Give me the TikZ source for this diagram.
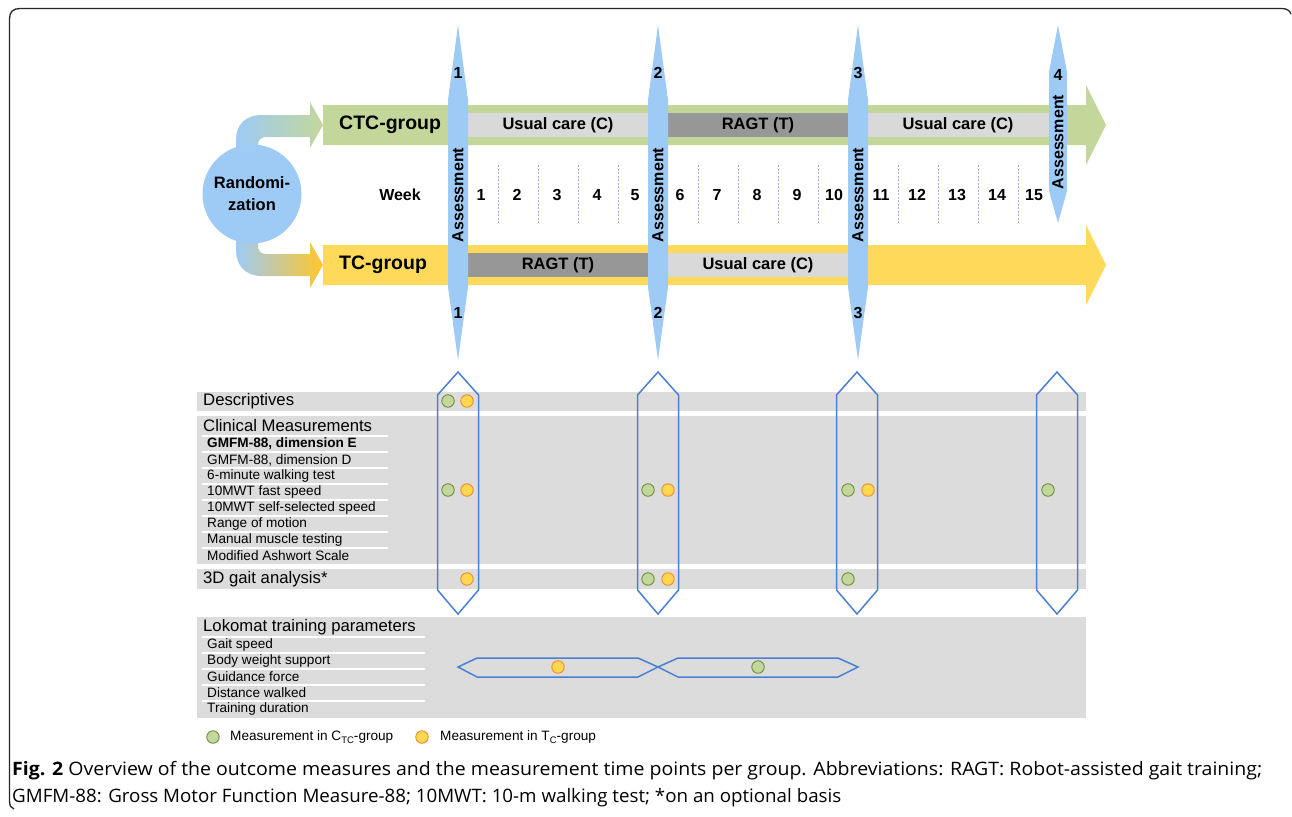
\documentclass[tikz,border=0pt]{standalone}
\usepackage{fontspec}
\usepackage{graphicx}
\setmainfont{Liberation Sans}
\newfontfamily\capfont{Open Sans}
\definecolor{lensblue}{HTML}{9DCBF6}
\definecolor{ctcgreen}{HTML}{C4D79B}
\definecolor{tcyellow}{HTML}{FFD95A}
\definecolor{tcgold}{HTML}{FFC72C}
\definecolor{lgrey}{HTML}{D9D9D9}
\definecolor{dgrey}{HTML}{979797}
\definecolor{bandgrey}{HTML}{DCDCDC}
\definecolor{hexblue}{HTML}{4A7FD4}
\definecolor{sepblue}{HTML}{9DB3E0}
\definecolor{gfill}{HTML}{C3D69B}
\definecolor{gline}{HTML}{6E8B3D}
\definecolor{ofill}{HTML}{FFD751}
\definecolor{oline}{HTML}{F08C28}
\newcommand\drawlens[6]{%
  \fill[lensblue] ({#1},{#2}) -- ({#1-#4},{#2+#5}) -- ({#1-#4},{#3-#6}) -- ({#1},{#3})
     -- ({#1+#4},{#3-#6}) -- ({#1+#4},{#2+#5}) -- cycle;}
\newcommand\drawhexv[1]{%
  \draw[hexa] ({#1},372) -- ({#1+20.5},395) -- ({#1+20.5},590) -- ({#1},614)
     -- ({#1-20.5},590) -- ({#1-20.5},395) -- cycle;}
\begin{document}
\begin{tikzpicture}[x=1pt,y=-1pt,
  bw/.style={font=\bfseries\fontsize{16.5}{19}\selectfont, inner sep=0pt},
  grp/.style={font=\bfseries\fontsize{19.5}{22}\selectfont, inner sep=0pt, anchor=west},
  wk/.style={font=\bfseries\fontsize{16}{19}\selectfont, inner sep=0pt},
  hdr/.style={font=\fontsize{16.7}{19}\selectfont, inner sep=0pt, anchor=west},
  item/.style={font=\fontsize{13.6}{15}\selectfont, inner sep=0pt, anchor=west},
  hexa/.style={draw=hexblue, line width=1.5pt, line join=miter},
  gdot/.style={circle, draw=gline, fill=gfill, line width=0.9pt, minimum size=12.5pt, inner sep=0pt},
  odot/.style={circle, draw=oline, fill=ofill, line width=0.9pt, minimum size=12.5pt, inner sep=0pt},
  wline/.style={white, line width=1.2pt},
  sepline/.style={sepblue, line width=0.8pt, dash pattern=on 2pt off 1.5pt},
  capt/.style={anchor=west, inner sep=0pt, font=\capfont\fontsize{18.5}{20}\selectfont}
]
\useasboundingbox (0,0) rectangle (1292,816);
% frame
\draw[line width=1.3pt, black!85] (14,809) .. controls (11,808) and (9.5,806) .. (9.5,800)
  -- (9.5,19) .. controls (9.5,12) and (13,8.5) .. (20,8.5) -- (1282,8.5)
  .. controls (1287,8.5) and (1290,11) .. (1291,14);

% group bars
\fill[ctcgreen] (323,105) -- (1086,105) -- (1086,85) -- (1106,125) -- (1086,165) -- (1086,145) -- (323,145) -- cycle;
\fill[tcyellow] (323,245) -- (1086,245) -- (1086,225) -- (1106,265) -- (1086,305) -- (1086,285) -- (323,285) -- cycle;
% inner bars
\fill[lgrey] (458,113) rectangle (658,137);
\fill[dgrey] (658,113) rectangle (858,137);
\fill[lgrey] (858,113) rectangle (1050,137);
\fill[dgrey] (458,253) rectangle (658,277);
\fill[lgrey] (658,253) rectangle (858,277);

% randomization arrows
\shade[left color=lensblue, right color=ctcgreen]
  (236,172) -- (236,140) .. controls (236,125) and (245,115) .. (262,115) -- (310,115)
  -- (310,102) -- (323,125) -- (310,148) -- (310,137) -- (266,137)
  .. controls (261,137) and (258,140) .. (258,145) -- (258,172) -- cycle;
\shade[left color=lensblue, right color=tcgold]
  (236,215) -- (236,250) .. controls (236,265) and (245,276) .. (262,276) -- (310,276)
  -- (310,288) -- (323,265) -- (310,242) -- (310,254) -- (266,254)
  .. controls (261,254) and (258,251) .. (258,246) -- (258,215) -- cycle;
\node[circle, fill=lensblue, minimum size=99pt, inner sep=0pt] (rand) at (252,194) {};
\node[bw, align=center, font=\bfseries\fontsize{16.5}{22}\selectfont] (randt) at (252,194) {Randomi-\\zation};

% week separators
\foreach \x in {498,538,578,618,698,738,778,818,898,938,978,1018}
  \draw[sepline] (\x,165) -- (\x,223);

% lenses
\drawlens{458}{25}{360}{10}{75}{73}
\drawlens{658}{25}{360}{10}{75}{73}
\drawlens{858}{25}{360}{10}{75}{73}
\drawlens{1058}{25}{223}{9}{47}{32}

% texts on bars
\node[grp] (ctc) at (339,125) {CTC-group};
\node[grp] (tc) at (339,265) {TC-group};
\node[bw] (u1) at (558,125) {Usual care (C)};
\node[bw] (r1) at (758,125) {RAGT (T)};
\node[bw] (u2) at (958,125) {Usual care (C)};
\node[bw] (r2) at (558,265) {RAGT (T)};
\node[bw] (u3) at (758,265) {Usual care (C)};

% assessments
\foreach \c/\n in {458/1,658/2,858/3}{
  \node[wk] (at\n) at (\c,73) {\n};
  \node[wk] (ab\n) at (\c,313) {\n};
  \node[wk, rotate=90] (as\n) at (\c,195) {Assessment};
}
\node[wk] (at4) at (1058,75) {4};
\node[wk, rotate=90] (as4) at (1058,142) {Assessment};

% weeks
\node[wk] (week) at (400,195) {Week};
\foreach \n/\x in {1/481,2/517,3/557,4/597,5/635,6/680,7/717,8/757,9/797,10/834,11/881,12/917,13/957,14/997,15/1034}
  \node[wk] (w\n) at (\x,195) {\n};

% table bands
\fill[bandgrey] (197,392) rectangle (1086,411);
\fill[bandgrey] (197,416) rectangle (1086,564);
\fill[bandgrey] (197,569) rectangle (1086,589);
\fill[bandgrey] (197,617) rectangle (1086,718);
\foreach \y in {436,452,468,484,500,516,532,548}
  \draw[wline] (202,\y) -- (388,\y);
\foreach \y in {637,653,669,685,701}
  \draw[wline] (202,\y) -- (425,\y);

\node[hdr] (desc) at (203,401) {Descriptives};
\node[hdr] (clin) at (203,426) {Clinical Measurements};
\node[item, font=\bfseries\fontsize{13.6}{15}\selectfont] (i1) at (207,444) {GMFM-88, dimension E};
\node[item] (i2) at (207,460) {GMFM-88, dimension D};
\node[item] (i3) at (207,476) {6-minute walking test};
\node[item] (i4) at (207,492) {10MWT fast speed};
\node[item] (i5) at (207,508) {10MWT self-selected speed};
\node[item] (i6) at (207,524) {Range of motion};
\node[item] (i7) at (207,540) {Manual muscle testing};
\node[item] (i8) at (207,556) {Modified Ashwort Scale};
\node[hdr] (gait) at (203,579) {3D gait analysis*};
\node[hdr] (lok) at (203,627) {Lokomat training parameters};
\node[item] (l1) at (207,645) {Gait speed};
\node[item] (l2) at (207,661) {Body weight support};
\node[item] (l3) at (207,677) {Guidance force};
\node[item] (l4) at (207,693) {Distance walked};
\node[item] (l5) at (207,709) {Training duration};

% hexagons
\drawhexv{458}
\drawhexv{658}
\drawhexv{857}
\drawhexv{1057}
\draw[hexa] (458,667) -- (477,658) -- (638,658) -- (658,667) -- (638,677) -- (477,677) -- cycle;
\draw[hexa] (658,667) -- (678,658) -- (838,658) -- (858,667) -- (838,677) -- (678,677) -- cycle;

% dots
\node[gdot] (d1g) at (448,401) {};
\node[odot] (d1o) at (467,401) {};
\node[gdot] (c1g) at (448,490) {};
\node[odot] (c1o) at (467,490) {};
\node[gdot] (c2g) at (648,490) {};
\node[odot] (c2o) at (668,490) {};
\node[gdot] (c3g) at (848,490) {};
\node[odot] (c3o) at (868,490) {};
\node[gdot] (c4g) at (1048,490) {};
\node[odot] (g1o) at (467,579) {};
\node[gdot] (g2g) at (648,579) {};
\node[odot] (g2o) at (668,579) {};
\node[gdot] (g3g) at (848,579) {};
\node[odot] (l1o) at (558,667) {};
\node[gdot] (l2g) at (758,667) {};

% legend
\node[gdot] (lg) at (213,737) {};
\node[item] (lgt) at (230,737) {Measurement in C\raisebox{-0.35ex}{\fontsize{9.5}{10}\selectfont TC}-group};
\node[odot] (lo) at (422,737) {};
\node[item] (lot) at (440,737) {Measurement in T\raisebox{-0.35ex}{\fontsize{9.5}{10}\selectfont C}-group};

% caption
\node[capt] (cap1) at (12,771)
  {\resizebox{1250pt}{\height}{\textbf{Fig. 2} Overview of the outcome measures and the measurement time points per group. Abbreviations: RAGT: Robot-assisted gait training;}};
\node[capt] (cap2) at (12,798)
  {\resizebox{829pt}{\height}{GMFM-88: Gross Motor Function Measure-88; 10MWT: 10-m walking test; *on an optional basis}};
\end{tikzpicture}
\end{document}
